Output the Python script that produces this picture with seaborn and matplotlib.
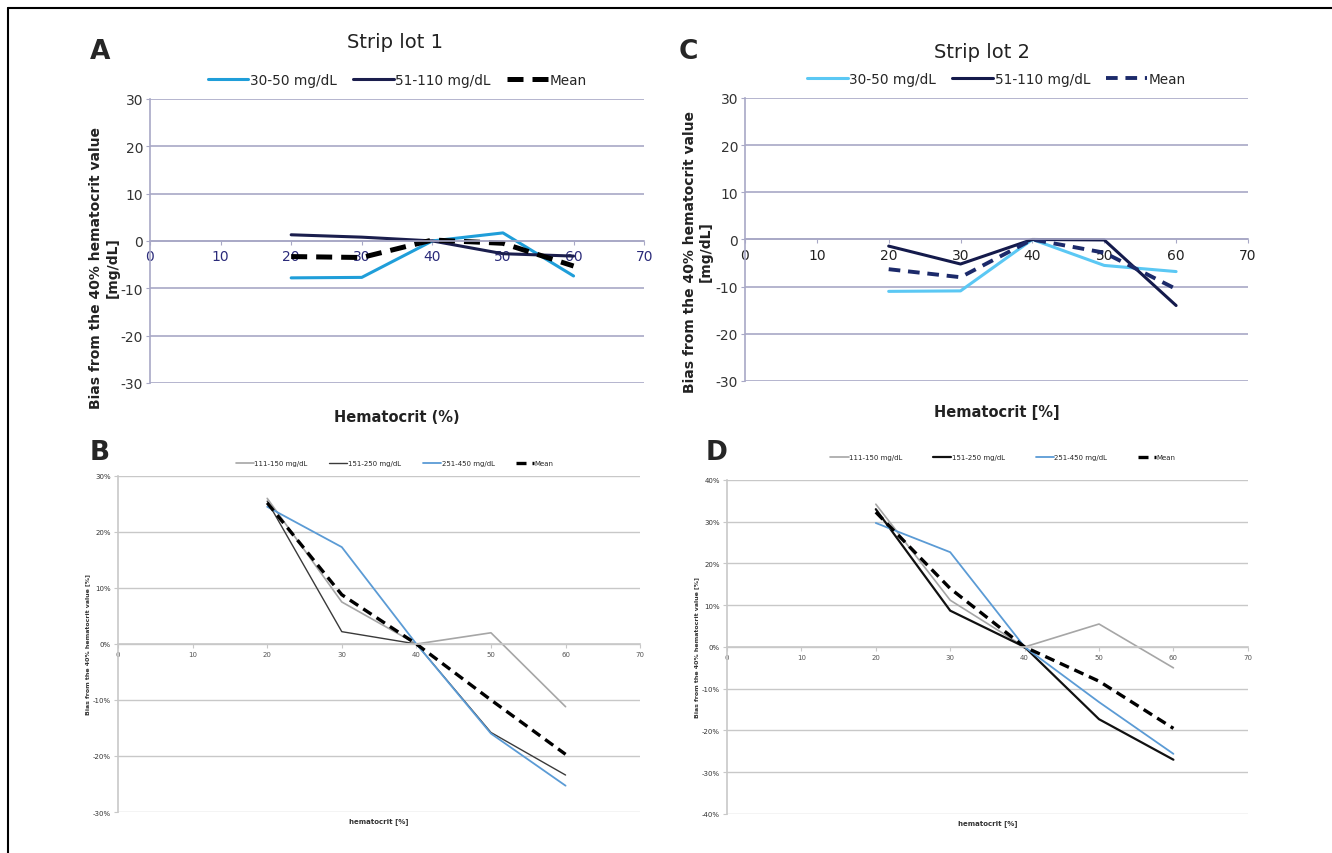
import pandas as pd
import seaborn as sns
from matplotlib import pyplot as plt
from matplotlib.lines import Line2D
from matplotlib.ticker import FuncFormatter

hematocrit = [20, 30, 40, 50, 60]

# strip lot 1, low glucose (mg/dL bias)
lot1_30_50 = [-7.8, -7.7, 0.0, 1.7, -7.4]
lot1_51_110 = [1.3, 0.8, 0.0, -2.7, -3.2]
lot1_mean = [-3.3, -3.5, 0.2, -0.5, -5.3]

# strip lot 2, low glucose (mg/dL bias)
lot2_30_50 = [-11.0, -10.9, 0.0, -5.5, -6.8]
lot2_51_110 = [-1.4, -5.2, 0.0, -0.1, -14.0]
lot2_mean = [-6.3, -8.0, 0.0, -2.8, -10.5]

# strip lot 1, high glucose (% bias)
lot1_111_150 = [26.0, 7.5, 0.0, 2.0, -11.2]
lot1_151_250 = [25.5, 2.2, 0.0, -15.8, -23.4]
lot1_251_450 = [24.5, 17.3, 0.0, -16.0, -25.3]
lot1_pct_mean = [25.2, 8.8, 0.0, -10.0, -19.7]

# strip lot 2, high glucose (% bias)
lot2_111_150 = [34.2, 11.2, 0.0, 5.5, -5.0]
lot2_151_250 = [33.0, 8.7, 0.0, -17.3, -27.0]
lot2_251_450 = [29.7, 22.7, 0.0, -13.2, -25.6]
lot2_pct_mean = [32.3, 14.0, 0.0, -8.2, -19.5]

low_labels = ['30-50 mg/dL', '51-110 mg/dL', 'Mean']
high_labels = ['111-150 mg/dL', '151-250 mg/dL', '251-450 mg/dL', 'Mean']

sns.set_style('white')
plt.rcParams['font.family'] = ['DejaVu Sans']
plt.rcParams['axes.unicode_minus'] = False

fig = plt.figure(figsize=(13.32, 8.54), dpi=100)

# frame lines top and left
fig.add_artist(Line2D([0.006, 1.0], [0.989, 0.989], color='black', lw=1.5))
fig.add_artist(Line2D([0.006, 0.006], [0.0, 0.989], color='black', lw=1.5))


def make_df(series, labels):
    rows = []
    for vals, lab in zip(series, labels):
        for x, v in zip(hematocrit, vals):
            rows.append({'hct': x, 'bias': v, 'group': lab})
    return pd.DataFrame(rows)


def draw_panel(rect, series, labels, colors, widths, dash, ylim, ystep,
               grid_col, xtick_col, small, pct):
    ax = fig.add_axes(rect)
    df = make_df(series, labels)
    for lab, col, lw in zip(labels, colors, widths):
        sub = df[df.group == lab]
        sns.lineplot(data=sub, x='hct', y='bias', ax=ax, color=col, lw=lw,
                     label=lab, linestyle=(0, dash) if lab == 'Mean' else '-',
                     legend=False)
    ax.set_xlim(0, 70)
    ax.set_ylim(*ylim)
    ax.set_xticks(range(0, 71, 10))
    ax.set_yticks(range(ylim[0], ylim[1] + 1, ystep))
    ax.yaxis.grid(True, color=grid_col, lw=1.2 if not small else 1.0)
    ax.xaxis.grid(False)
    for s in ['top', 'right']:
        ax.spines[s].set_visible(False)
    ax.spines['left'].set_color(grid_col)
    ax.spines['left'].set_linewidth(1.2)
    ax.spines['bottom'].set_position(('data', 0))
    ax.spines['bottom'].set_color(grid_col)
    ax.spines['bottom'].set_linewidth(1.2)
    fs = 5 if small else 10
    ax.tick_params(axis='x', colors=grid_col, labelcolor=xtick_col, labelsize=fs,
                   length=3, direction='out', pad=3 if not small else 2)
    ax.tick_params(axis='y', colors=grid_col, labelcolor='#333333', labelsize=fs,
                   length=3, direction='out', left=True, pad=2)
    ax.tick_params(axis='x', bottom=True)
    if pct:
        ax.yaxis.set_major_formatter(FuncFormatter(lambda v, p: f'{int(v)}%'))
    ax.set_xlabel('')
    ax.set_ylabel('')
    return ax


# A
axA = draw_panel([0.1126, 0.5504, 0.371, 0.3326],
                 [lot1_30_50, lot1_51_110, lot1_mean], low_labels,
                 ['#1F9ED9', '#1B1E4D', '#000000'], [2.2, 2.2, 3.6], (3.2, 1.8),
                 (-30, 30), 10, '#A8A8C6', '#2B2B7A', False, False)
axA.set_ylabel('Bias from the 40% hematocrit value\n[mg/dL]', fontsize=10,
               fontweight='bold', color='#222222')
axA.yaxis.set_label_coords(-0.062, 0.41)
axA.set_xlabel('Hematocrit (%)', fontsize=10.5, fontweight='bold', color='#222222')
axA.xaxis.set_label_coords(0.5, -0.09)
axA.legend(loc='lower center', bbox_to_anchor=(0.5, 1.0), ncol=3, frameon=False,
           fontsize=9.8, handlelength=3.0, handletextpad=0.1, columnspacing=1.2)

# C
axC = draw_panel([0.5593, 0.5527, 0.3776, 0.3314],
                 [lot2_30_50, lot2_51_110, lot2_mean], low_labels,
                 ['#5BC8F4', '#141A4B', '#1C2A6A'], [2.2, 2.2, 2.8], (3.0, 2.0),
                 (-30, 30), 10, '#A8A8C6', '#222222', False, False)
axC.set_ylabel('Bias from the 40% hematocrit value\n[mg/dL]', fontsize=10,
               fontweight='bold', color='#222222')
axC.yaxis.set_label_coords(-0.064, 0.46)
axC.set_xlabel('Hematocrit [%]', fontsize=10.5, fontweight='bold', color='#222222')
axC.xaxis.set_label_coords(0.5, -0.08)
axC.legend(loc='lower center', bbox_to_anchor=(0.5, 1.0), ncol=3, frameon=False,
           fontsize=9.8, handlelength=3.0, handletextpad=0.1, columnspacing=1.2)

# B
axB = draw_panel([0.0886, 0.0480, 0.392, 0.3935],
                 [lot1_111_150, lot1_151_250, lot1_251_450, lot1_pct_mean], high_labels,
                 ['#A6A6A6', '#3A3A3A', '#5B9BD5', '#000000'], [1.2, 1.0, 1.3, 2.4], (3.0, 1.8),
                 (-30, 30), 10, '#C8C8C8', '#555555', True, True)
axB.set_ylabel('Bias from the 40% hematocrit value [%]', fontsize=4.5,
               fontweight='bold', color='#333333', labelpad=2)
axB.set_xlabel('hematocrit [%]', fontsize=5, fontweight='bold', color='#333333')
axB.xaxis.set_label_coords(0.5, -0.015)
axB.legend(loc='lower center', bbox_to_anchor=(0.53, 1.01), ncol=4, frameon=False,
           fontsize=5, handlelength=2.6, handletextpad=0.1, columnspacing=3.1)

# D
axD = draw_panel([0.5458, 0.0457, 0.391, 0.3911],
                 [lot2_111_150, lot2_151_250, lot2_251_450, lot2_pct_mean], high_labels,
                 ['#A6A6A6', '#111111', '#5B9BD5', '#000000'], [1.2, 1.6, 1.3, 2.4], (3.0, 1.8),
                 (-40, 40), 10, '#C8C8C8', '#555555', True, True)
axD.set_ylabel('Bias from the 40% hematocrit value [%]', fontsize=4.5,
               fontweight='bold', color='#333333', labelpad=2)
axD.set_xlabel('hematocrit [%]', fontsize=5, fontweight='bold', color='#333333')
axD.xaxis.set_label_coords(0.5, -0.015)
axD.legend(loc='lower center', bbox_to_anchor=(0.53, 1.04), ncol=4, frameon=False,
           fontsize=5, handlelength=2.6, handletextpad=0.1, columnspacing=4.4)

# titles and panel letters
fig.text(395 / 1332, 1 - 43 / 854, 'Strip lot 1', fontsize=14, ha='center', va='center',
         color='#222222')
fig.text(982 / 1332, 1 - 52 / 854, 'Strip lot 2', fontsize=14, ha='center', va='center',
         color='#222222')
for letter, x, y in [('A', 100, 52), ('C', 688, 52), ('B', 100, 453), ('D', 717, 453)]:
    fig.text(x / 1332, 1 - y / 854, letter, fontsize=19, fontweight='bold',
             ha='center', va='center')

fig.savefig('out.png', dpi=100)
